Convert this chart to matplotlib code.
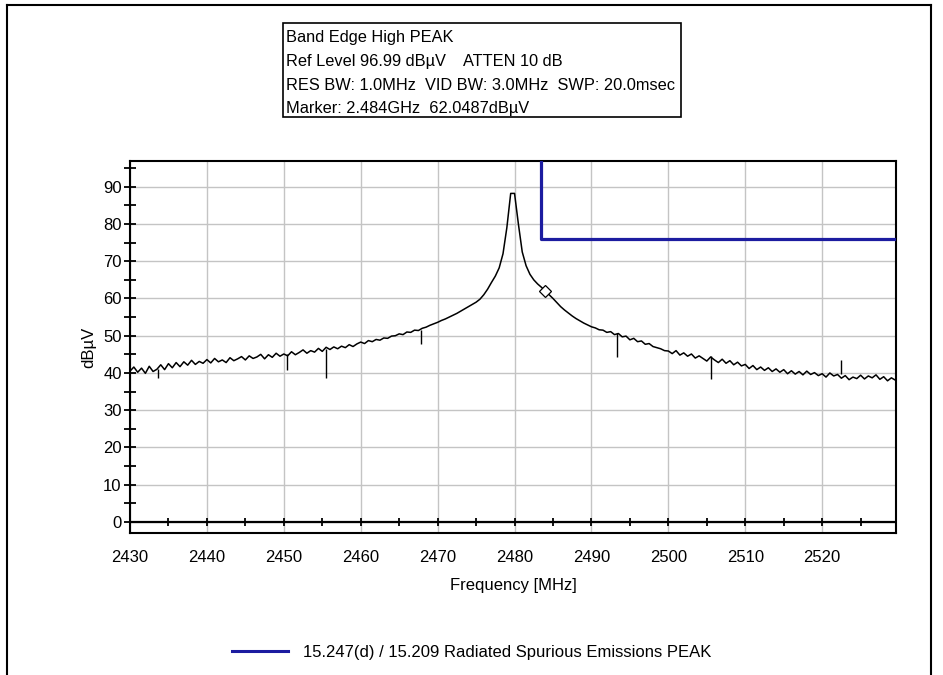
import numpy as np
import matplotlib
matplotlib.use("Agg")
import matplotlib.pyplot as plt
from matplotlib.patches import Rectangle
from matplotlib.lines import Line2D

plt.rcParams['font.family'] = ['Liberation Sans', 'DejaVu Sans']

# sweep 2430 .. 2529.5 MHz, 0.5 MHz step, levels (dBuV)
f_start, f_step = 2430.0, 0.5
level = [
    40.5, 41.6, 40.2, 41.3, 39.9, 41.8, 40.4, 41.0, 42.2, 40.9,   # 2430
    42.5, 41.4, 42.8, 41.7, 43.0, 42.1, 43.4, 42.3, 43.1, 42.6,   # 2435
    43.6, 42.7, 43.9, 43.0, 43.5, 42.8, 44.1, 43.3, 43.8, 44.4,   # 2440
    43.5, 44.6, 43.9, 44.3, 45.0, 43.8, 44.9, 44.2, 45.3, 44.5,   # 2445
    45.1, 44.6, 45.7, 44.9, 45.5, 46.2, 45.3, 46.0, 45.6, 46.6,   # 2450
    45.8, 46.9, 46.3, 47.0, 46.5, 47.2, 46.8, 47.6, 47.1, 47.8,   # 2455
    48.3, 47.9, 48.7, 48.4, 49.0, 48.8, 49.4, 49.3, 49.9, 50.0,   # 2460
    50.5, 50.3, 51.0, 50.9, 51.5, 51.4, 52.0, 52.3, 52.8, 53.2,   # 2465
    53.6, 54.1, 54.5, 55.0, 55.5, 56.0, 56.6, 57.2, 57.8, 58.4,   # 2470
    59.0, 59.8, 61.0, 62.5, 64.3, 66.0, 68.2, 72.0, 79.0, 88.2,   # 2475
    88.2, 80.0, 72.5, 68.8, 66.5, 65.0, 63.9, 63.0, 62.0, 61.0,   # 2480
    60.0, 58.9, 57.8, 56.9, 56.1, 55.3, 54.6, 54.0, 53.4, 52.9,   # 2485
    52.4, 52.1, 51.6, 51.5, 50.9, 51.1, 50.3, 50.6, 49.7, 49.9,   # 2490
    48.9, 49.3, 48.4, 48.6, 47.7, 47.9, 47.1, 46.8, 46.5, 46.0,   # 2495
    45.9, 45.2, 46.0, 44.8, 45.4, 44.5, 45.1, 44.0, 44.6, 43.9,   # 2500
    43.2, 44.3, 43.5, 42.8, 43.7, 42.6, 43.3, 42.2, 42.9, 41.9,   # 2505
    42.3, 41.2, 42.0, 40.9, 41.6, 40.7, 41.4, 40.4, 41.1, 40.2,   # 2510
    40.9, 39.8, 40.6, 39.7, 40.4, 39.5, 40.5, 39.6, 40.1, 39.3,   # 2515
    39.8, 38.9, 40.0, 39.2, 39.6, 38.6, 39.3, 38.2, 38.9, 38.5,   # 2520
    39.4, 38.4, 39.2, 38.7, 39.5, 38.3, 39.0, 37.9, 38.7, 38.1,   # 2525
]
freq = f_start + f_step * np.arange(len(level))

# narrow single-point spikes in the trace
spike_freq = [2433.6, 2450.4, 2455.5, 2467.8, 2493.3, 2505.6, 2522.4]
spike_from = [41.0, 45.0, 46.5, 51.6, 50.6, 44.5, 39.6]
spike_to = [38.6, 40.8, 38.6, 47.8, 44.4, 38.4, 43.5]

# limit line (15.247(d) / 15.209)
limit_freq = [2483.5, 2483.5, 2529.6]
limit_level = [97.0, 76.0, 76.0]

marker_freq, marker_level = 2484.0, 62.0487

header = [
    "Band Edge High PEAK",
    "Ref Level 96.99 dB\u00b5V    ATTEN 10 dB",
    "RES BW: 1.0MHz  VID BW: 3.0MHz  SWP: 20.0msec",
    "Marker: 2.484GHz  62.0487dB\u00b5V",
]
legend_text = "15.247(d) / 15.209 Radiated Spurious Emissions PEAK"

W, H = 943, 675
navy = '#1c1ca0'
fs = 12

fig = plt.figure(figsize=(W / 100, H / 100), dpi=100)
ax = fig.add_axes([130 / W, 1 - 533 / H, 766 / W, 372 / H])
ax.set_xlim(2430, 2529.6)
ax.set_ylim(-2.95, 96.9)

ax.set_xticks(np.arange(2430, 2521, 10))
ax.set_yticks(np.arange(0, 91, 10))
ax.set_yticks(np.arange(5, 96, 10), minor=True)
ax.grid(True, color='#c4c4c4', lw=1.0, zorder=0)
ax.tick_params(axis='x', length=0, pad=12, labelsize=fs)
ax.tick_params(axis='y', which='both', direction='inout', length=8, width=1.3, pad=2, labelsize=fs)
for s in ax.spines.values():
    s.set_linewidth(1.5)

# x ticks sit on the zero line
ax.axhline(0, color='black', lw=1.6, zorder=3)
tick_pos = np.arange(2435, 2529, 5)
ax.plot(tick_pos, np.zeros(len(tick_pos)), ls='none', marker='|', ms=5.5, mew=1.3, color='black', zorder=3)

ax.plot(freq, level, color='black', lw=1.1, zorder=4)
ax.vlines(spike_freq, spike_from, spike_to, color='black', lw=1.0, zorder=4)
ax.plot(limit_freq, limit_level, color=navy, lw=2.3, zorder=5)
ax.plot([marker_freq], [marker_level], marker='D', ms=6, mfc='white', mec='black', mew=0.9, zorder=6)

ax.set_xlabel('Frequency [MHz]', fontsize=fs)
ax.set_ylabel('dB\u00b5V', fontsize=fs)
ax.xaxis.set_label_coords(0.5, (533 - 578) / 372)
ax.yaxis.set_label_coords((96 - 130) / 766, 0.5)

# outer frame
top = 1 - 5 / H
fig.add_artist(Line2D([7 / W, 7 / W], [0, top], color='black', lw=1.5))
fig.add_artist(Line2D([7 / W, 931 / W], [top, top], color='black', lw=1.5))
fig.add_artist(Line2D([931 / W, 931 / W], [0, top], color='black', lw=1.5))

# info box
fig.add_artist(Rectangle((283 / W, 1 - 117 / H), 398 / W, 94 / H, transform=fig.transFigure,
                         facecolor='white', edgecolor='black', lw=1.2))
for line, base in zip(header, [42, 66, 89.5, 113.5]):
    fig.text(286 / W, 1 - base / H, line, fontsize=11.8, va='baseline', ha='left')

# legend
fig.add_artist(Line2D([232 / W, 288 / W], [1 - 651 / H] * 2, color=navy, lw=2.2))
fig.text(303 / W, 1 - 657 / H, legend_text, fontsize=fs, va='baseline', ha='left')

fig.savefig('out.png', dpi=100)
